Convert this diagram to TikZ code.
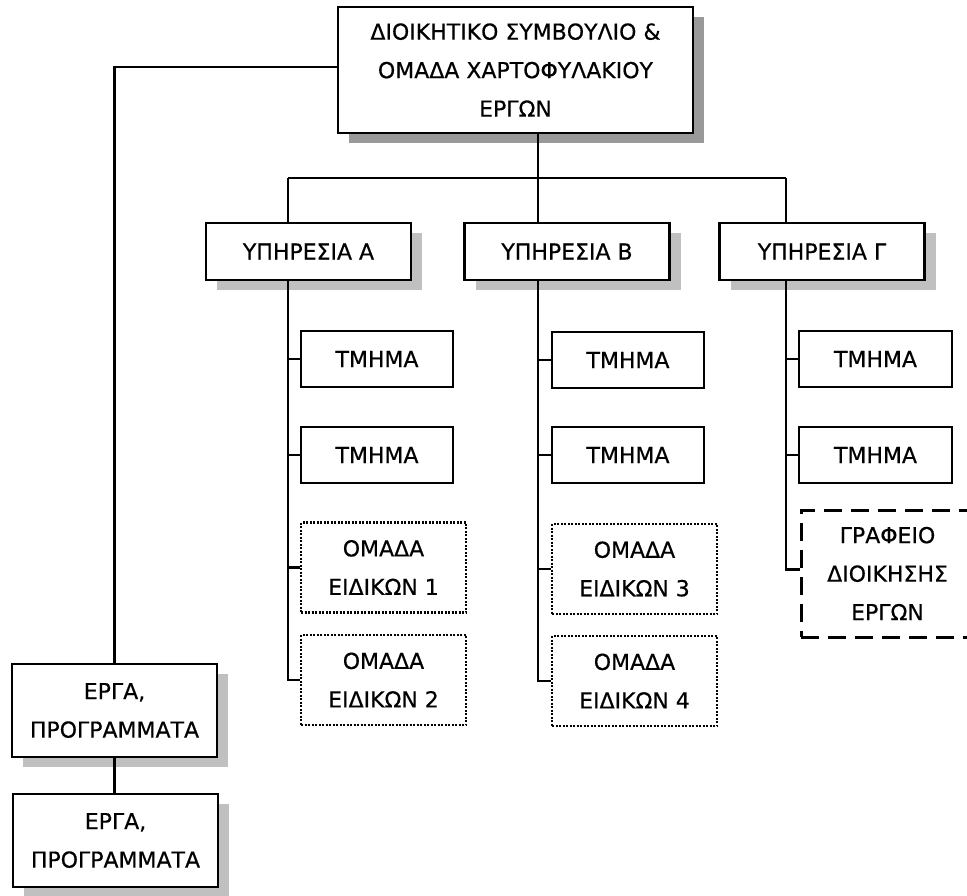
\documentclass[tikz,border=0pt]{standalone}
\usepackage{fontspec}
\setmainfont{DejaVu Sans}
\newfontfamily\labelfont{DejaVu Sans}[FakeBold=0.5]
\usetikzlibrary{shadows,calc}
\definecolor{shadowdark}{HTML}{999999}
\definecolor{shadowlight}{HTML}{C0C0C0}
\tikzset{
  unit/.style={draw, line width=2.4pt, fill=white, inner sep=0pt, align=center,
    font=\labelfont\fontsize{22}{38.5}\selectfont},
  plainbox/.style={unit, minimum width=152pt, minimum height=56pt},
  shadowbox/.style={unit, drop shadow={shadow xshift=11pt, shadow yshift=-10pt,
    fill=#1, opacity=1}},
  servicebox/.style={shadowbox=shadowlight, minimum width=205pt, minimum height=57pt},
  expertbox/.style={unit, line width=2.6pt, dash pattern=on 2pt off 1.5pt,
    minimum width=165pt, minimum height=90pt},
  officebox/.style={unit, line width=3pt, dash pattern=on 18pt off 9pt,
    minimum width=173pt, minimum height=127pt},
  projbox/.style={shadowbox=shadowlight, minimum width=205pt, minimum height=93pt},
  wire/.style={line width=2.4pt},
}
\begin{document}
\begin{tikzpicture}[x=1pt,y=-1pt]
\useasboundingbox (0,0) rectangle (967,896);
\clip (0,0) rectangle (967,896);

% board
\node[shadowbox=shadowdark, minimum width=355pt, minimum height=126pt] (top) at (515.5,70)
  {ΔΙΟΙΚΗΤΙΚΟ ΣΥΜΒΟΥΛΙΟ \&\\ ΟΜΑΔΑ ΧΑΡΤΟΦΥΛΑΚΙΟΥ\\ ΕΡΓΩΝ};

% services
\node[servicebox] (sA) at (308.5,251.5) {ΥΠΗΡΕΣΙΑ Α};
\node[servicebox] (sB) at (567,251.5) {ΥΠΗΡΕΣΙΑ Β};
\node[servicebox] (sC) at (822,251.5) {ΥΠΗΡΕΣΙΑ Γ};

% column A
\node[plainbox] (a1) at (377,359) {ΤΜΗΜΑ};
\node[plainbox] (a2) at (377,455) {ΤΜΗΜΑ};
\node[expertbox] (a3) at (383.5,567.5) {ΟΜΑΔΑ\\ ΕΙΔΙΚΩΝ 1};
\node[expertbox] (a4) at (383.5,680) {ΟΜΑΔΑ\\ ΕΙΔΙΚΩΝ 2};

% column B
\node[plainbox] (b1) at (628,360) {ΤΜΗΜΑ};
\node[plainbox] (b2) at (628,455) {ΤΜΗΜΑ};
\node[expertbox] (b3) at (634.5,569) {ΟΜΑΔΑ\\ ΕΙΔΙΚΩΝ 3};
\node[expertbox] (b4) at (634.5,681) {ΟΜΑΔΑ\\ ΕΙΔΙΚΩΝ 4};

% column C
\node[plainbox, minimum width=153pt] (c1) at (875.5,359) {ΤΜΗΜΑ};
\node[plainbox, minimum width=153pt] (c2) at (875.5,455) {ΤΜΗΜΑ};
\node[officebox] (c3) at (887.5,573.5) {ΓΡΑΦΕΙΟ\\ ΔΙΟΙΚΗΣΗΣ\\ ΕΡΓΩΝ};

% projects
\node[projbox] (e1) at (114.5,710.5) {ΕΡΓΑ,\\ ΠΡΟΓΡΑΜΜΑΤΑ};
\node[projbox] (e2) at (115.5,840.5) {ΕΡΓΑ,\\ ΠΡΟΓΡΑΜΜΑΤΑ};

% bus below the board
\coordinate (kA) at (288,178);
\coordinate (kB) at (538,178);
\coordinate (kC) at (786,178);
\draw[wire] (top.south -| kB) -- (kB);
\draw[wire] (kA) -- (kC);
\draw[wire] (kA) -- (sA.north -| kA);
\draw[wire] (kB) -- (sB.north -| kB);
\draw[wire] (kC) -- (sC.north -| kC);

% column trunks and branches
\draw[wire] (sA.south -| kA) |- (a4.west);
\draw[wire] (kA |- a1.west) -- (a1.west);
\draw[wire] (kA |- a2.west) -- (a2.west);
\draw[wire] (kA |- a3.west) -- (a3.west);

\draw[wire] (sB.south -| kB) |- (b4.west);
\draw[wire] (kB |- b1.west) -- (b1.west);
\draw[wire] (kB |- b2.west) -- (b2.west);
\draw[wire] (kB |- b3.west) -- (b3.west);

\draw[wire] (sC.south -| kC) |- ($(c3.west)+(0,-4)$);
\draw[wire] (kC |- c1.west) -- (c1.west);
\draw[wire] (kC |- c2.west) -- (c2.west);

% projects branch
\draw[wire] ($(top.west)+(0,-3)$) -| (e1.north);
\draw[wire] (e1.south) -- (e1.south |- e2.north);
\end{tikzpicture}
\end{document}
